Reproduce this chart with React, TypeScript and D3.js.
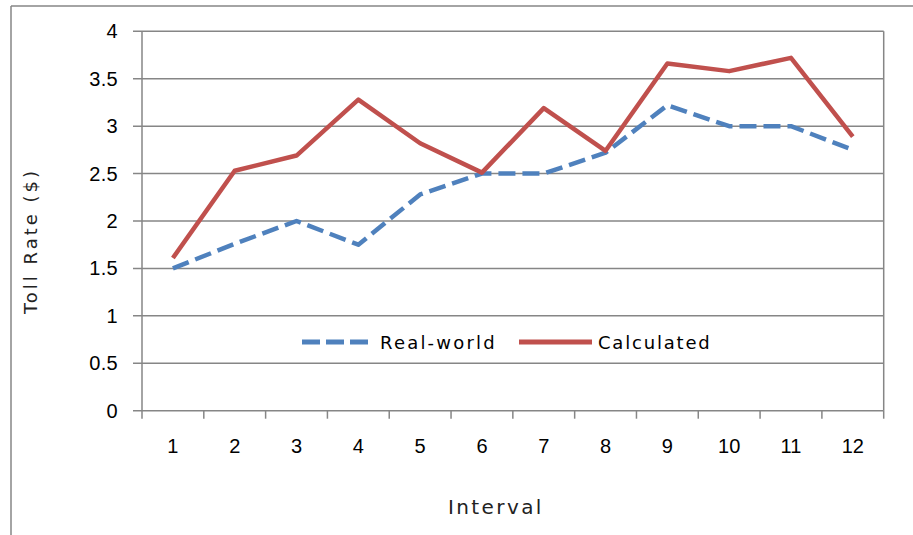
import React from "react";
import * as d3 from "d3";

const categories = ["1", "2", "3", "4", "5", "6", "7", "8", "9", "10", "11", "12"];
const realWorld = [1.5, 1.76, 2.0, 1.75, 2.28, 2.5, 2.5, 2.72, 3.22, 3.0, 3.0, 2.75];
const calculated = [1.61, 2.53, 2.69, 3.28, 2.82, 2.51, 3.19, 2.74, 3.66, 3.58, 3.72, 2.89];
const yTicks = [0, 0.5, 1, 1.5, 2, 2.5, 3, 3.5, 4];
const yTickLabels = ["0", "0.5", "1", "1.5", "2", "2.5", "3", "3.5", "4"];
const seriesNames = ["Real-world", "Calculated"];

const W = 913;
const H = 535;
const L = 142;
const R = 883.7;
const T = 31.3;
const B = 410.7;
const GRID = "#868686";
const BLUE = "#4F81BD";
const RED = "#C0504D";
const FONT = "'Liberation Sans', Arial, sans-serif";
const FONT2 = "'DejaVu Sans', Verdana, sans-serif";

export default function App() {
  const x = d3.scaleBand<string>().domain(categories).range([L, R]).padding(0);
  const y = d3.scaleLinear().domain([0, 4]).range([B, T]);
  const cx = (c: string) => (x(c) as number) + x.bandwidth() / 2;

  const line = d3
    .line<number>()
    .x((_, i) => cx(categories[i]))
    .y((d) => y(d));

  const bandEdges = categories.map((c) => x(c) as number).concat([R]);

  return (
    <svg
      width={W}
      height={H}
      style={{ position: "absolute", left: 0, top: 0, background: "#fff" }}
      fontFamily={FONT}
    >
      <rect x={0} y={0} width={W} height={H} fill="#fff" />
      <line x1={11} y1={6} x2={W} y2={6} stroke={GRID} strokeWidth={1.5} />
      <line x1={11} y1={6} x2={11} y2={H} stroke={GRID} strokeWidth={1.5} />

      {yTicks.map((t) => (
        <line key={"g" + t} x1={L - 9} x2={R} y1={y(t)} y2={y(t)} stroke={GRID} strokeWidth={1.5} />
      ))}
      <line x1={L} x2={L} y1={T} y2={B} stroke={GRID} strokeWidth={1.5} />
      <line x1={R} x2={R} y1={T} y2={B} stroke={GRID} strokeWidth={1.5} />
      {bandEdges.map((e, i) => (
        <line key={"xt" + i} x1={e} x2={e} y1={B} y2={B + 8} stroke={GRID} strokeWidth={1.5} />
      ))}

      {yTicks.map((t, i) => (
        <text key={"yl" + t} x={118} y={y(t) + 7} textAnchor="end" fontSize={20} letterSpacing={0.3} fill="#000">
          {yTickLabels[i]}
        </text>
      ))}
      {categories.map((c) => (
        <text key={"xl" + c} x={cx(c)} y={453} textAnchor="middle" fontSize={20} fill="#000">
          {c}
        </text>
      ))}

      <path
        d={line(realWorld) || ""}
        fill="none"
        stroke={BLUE}
        strokeWidth={4.5}
        strokeDasharray="17 7"
        strokeLinejoin="round"
      />
      <path d={line(calculated) || ""} fill="none" stroke={RED} strokeWidth={4.5} strokeLinejoin="round" />

      <line x1={302} x2={368} y1={342} y2={342} stroke={BLUE} strokeWidth={5} strokeDasharray="18 6" />
      <text x={380} y={349} fontFamily={FONT2} fontSize={18} letterSpacing={2.2} fill="#000">
        {seriesNames[0]}
      </text>
      <line x1={519} x2={592} y1={342} y2={342} stroke={RED} strokeWidth={5} />
      <text x={598} y={349} fontFamily={FONT2} fontSize={18} letterSpacing={1.8} fill="#000">
        {seriesNames[1]}
      </text>

      <text x={448} y={514} fontFamily={FONT2} fontSize={20} letterSpacing={2.4} fill="#222">
        Interval
      </text>
      <text
        transform="translate(37,241) rotate(-90)"
        textAnchor="middle"
        fontFamily={FONT2}
        fontSize={18}
        letterSpacing={3}
        fill="#222"
      >
        Toll Rate ($)
      </text>
    </svg>
  );
}
